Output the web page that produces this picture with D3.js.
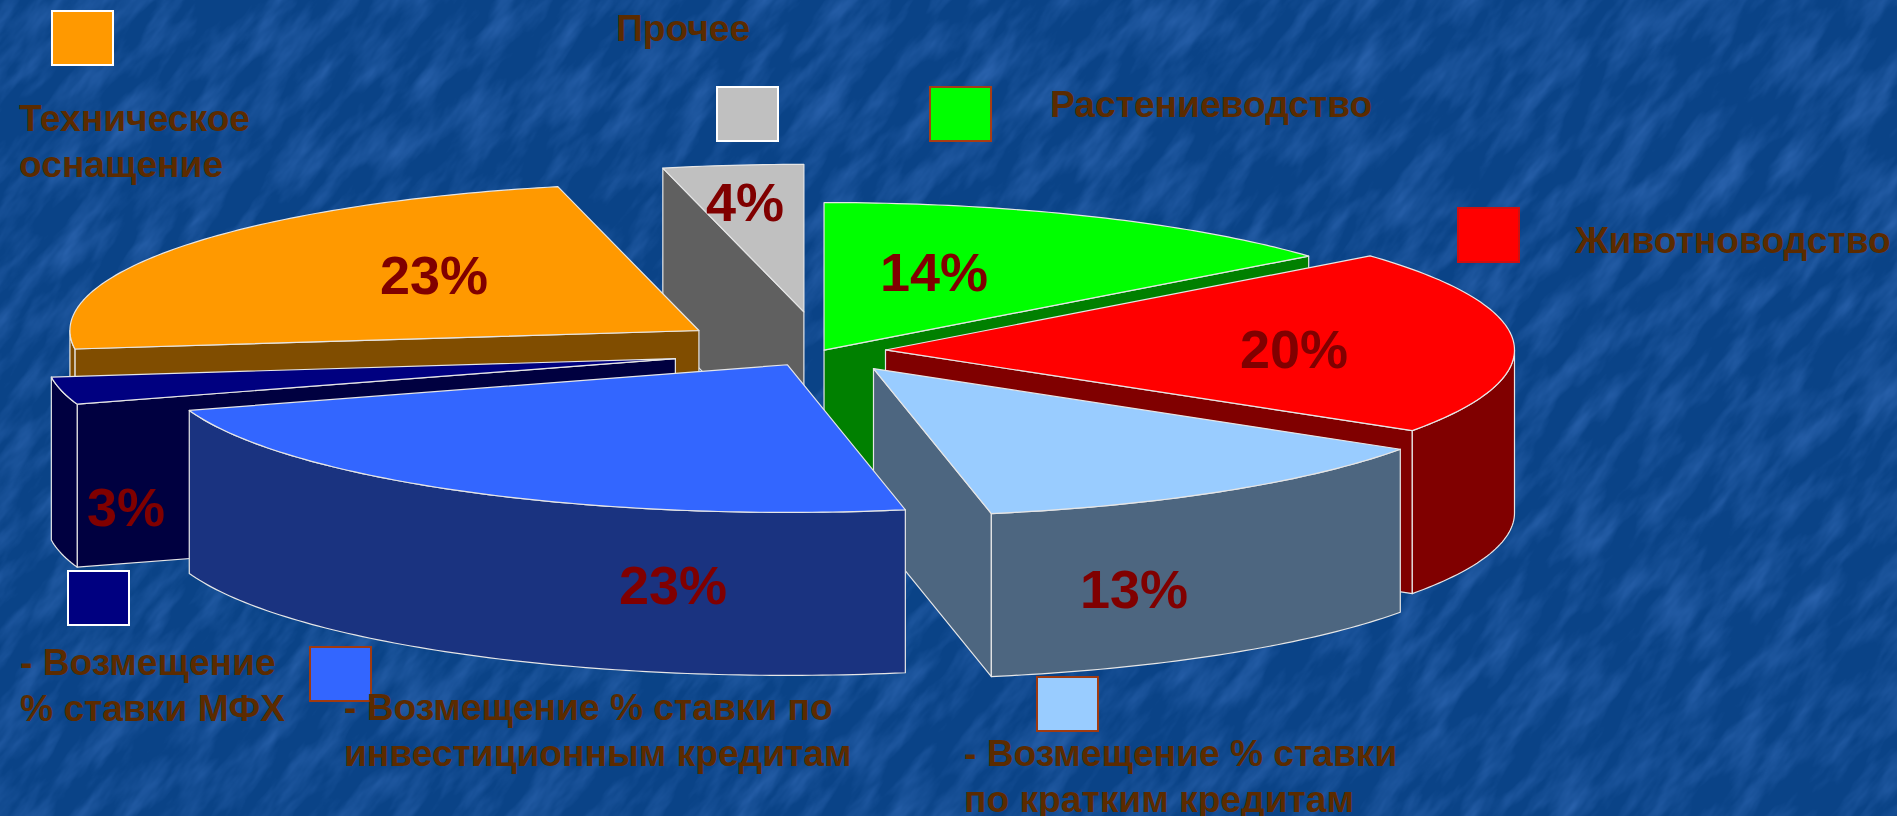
<!DOCTYPE html>
<html>
<head>
<meta charset="utf-8">
<script src="https://cdn.jsdelivr.net/npm/d3@7"></script>
<style>
  html, body { margin: 0; padding: 0; background: #0b4388; overflow: hidden; }
  svg { display: block; }
  text { font-family: "Liberation Sans", Arial, sans-serif; font-weight: bold; }
</style>
</head>
<body>
<div class="figure"></div>
<script>
// shares, clockwise from 12 o'clock
var categories = [
  "Растениеводство",
  "Животноводство",
  "- Возмещение % ставки по кратким кредитам",
  "- Возмещение % ставки по инвестиционным кредитам",
  "- Возмещение % ставки МФХ",
  "Техническое оснащение",
  "Прочее"
]
var shares = [14, 20.2, 12.8, 23, 3, 23.4, 3.6]
var explode = [0.005, 0.10, 0.145, 0.11, 0.24, 0.24, 0.265]
var colors = ["#00ff00", "#ff0000", "#99ccff", "#3366ff", "#000080", "#ff9900", "#c0c0c0"]
var legendLines = [
  ["Растениеводство"],
  ["Животноводство"],
  ["- Возмещение % ставки", "по кратким кредитам"],
  ["- Возмещение % ставки по", "инвестиционным кредитам"],
  ["- Возмещение", "% ставки МФХ"],
  ["Техническое", "оснащение"],
  ["Прочее"]
]

var dim = { w: 1897, h: 816 }

var pieConfig = {
  cx: 822.7,
  cy: 350.8,
  rx: 629,
  ry: 147.6,
  depth: 163,
  stroke: "#e6e6e6",
  // back to front
  drawOrder: [6, 0, 5, 1, 2, 4, 3],
}

var labelConfig = {
  fontSize: 54,
  color: "#800000",
  pos: [[934, 291], [1294, 368], [1134, 608], [673, 604], [126, 526], [434, 294], [745, 221]],
}

var legendConfig = {
  fontSize: 37.2,
  lineHeight: 46,
  color: "#5b2b00",
  swatch: [[930, 87], [1458, 208], [1037, 677], [310, 647], [68, 571], [52, 11], [717, 87]],
  swatchSize: { w: 61, h: 54 },
  border: ["#a83c14", "#d01010", "#a03a10", "#a03a10", "#ffffff", "#ffffff", "#ffffff"],
  text: [[1050, 117], [1575, 253], [964, 766], [344, 720], [20, 675], [19, 131], [616, 41]],
}

var svg = d3.select("div.figure")
  .append("svg")
  .attr("width", dim.w)
  .attr("height", dim.h)

// water-like background
var defs = svg.append("defs")
var streaks = defs.append("filter")
  .attr("id", "streaks")
  .attr("x", 0).attr("y", 0).attr("width", 1).attr("height", 1)
  .attr("color-interpolation-filters", "sRGB")
streaks.append("feTurbulence")
  .attr("type", "fractalNoise")
  .attr("baseFrequency", "0.014 0.045")
  .attr("numOctaves", 4)
  .attr("seed", 7)
streaks.append("feColorMatrix")
  .attr("type", "matrix")
  .attr("values", "0 0 0 0 0.2  0 0 0 0 0.42  0 0 0 0 0.72  1.5 0 0 0 -0.6")

svg.append("rect")
  .attr("width", dim.w).attr("height", dim.h)
  .attr("fill", "#0a4387")
svg.append("rect")
  .attr("x", -900).attr("y", -1500)
  .attr("width", 3800).attr("height", 3800)
  .attr("transform", "rotate(-52 948 408)")
  .attr("filter", "url(#streaks)")

// pie -> ellipse projection
var pie = d3.pie().sort(null).value(function(d) { return d })
var slices = pie(shares)

var line = d3.line()

var project = function(a, k, e) {
  return [e.x + k * pieConfig.rx * Math.sin(a), e.y - k * pieConfig.ry * Math.cos(a)]
}

var arcPoints = function(a0, a1, e) {
  var n = Math.max(2, Math.ceil((a1 - a0) * 60))
  return d3.range(n + 1).map(function(i) {
    return project(a0 + (a1 - a0) * i / n, 1, e)
  })
}

var lower = function(pts) {
  return pts.map(function(p) { return [p[0], p[1] + pieConfig.depth] })
}

var sideColor = function(c) {
  var r = d3.rgb(c)
  return d3.rgb(r.r / 2, r.g / 2, r.b / 2).formatHex()
}

var pieGroup = svg.append("g").attr("id", "pie")

pieConfig.drawOrder.forEach(function(i) {
  var s = slices[i]
  var mid = (s.startAngle + s.endAngle) / 2
  var e = {
    x: pieConfig.cx + explode[i] * pieConfig.rx * Math.sin(mid),
    y: pieConfig.cy - explode[i] * pieConfig.ry * Math.cos(mid),
  }
  var g = pieGroup.append("g").attr("class", "slice")
  var apex = [e.x, e.y]
  var dark = sideColor(colors[i])

  var face = function(pts) {
    g.append("path")
      .attr("d", line(pts) + "Z")
      .attr("fill", dark)
      .attr("stroke", pieConfig.stroke)
      .attr("stroke-width", 1.2)
      .attr("stroke-linejoin", "round")
  }

  var radial = function(a) {
    var top = [apex, project(a, 1, e)]
    face(top.concat(lower(top).reverse()))
  }

  // only the sides turned to the viewer
  if (Math.sin(s.startAngle) < -1e-6) radial(s.startAngle)
  if (Math.sin(s.endAngle) > 1e-6) radial(s.endAngle)

  var a0 = Math.max(s.startAngle, Math.PI / 2),
      a1 = Math.min(s.endAngle, Math.PI * 3 / 2)
  if (a1 > a0) {
    var rim = arcPoints(a0, a1, e)
    face(rim.concat(lower(rim).reverse()))
  }

  g.append("path")
    .attr("d", line([apex].concat(arcPoints(s.startAngle, s.endAngle, e))) + "Z")
    .attr("fill", colors[i])
    .attr("stroke", pieConfig.stroke)
    .attr("stroke-width", 1.2)
    .attr("stroke-linejoin", "round")
})

// percent labels
svg.append("g")
  .selectAll("text")
  .data(shares)
  .enter()
  .append("text")
  .attr("x", function(d, i) { return labelConfig.pos[i][0] })
  .attr("y", function(d, i) { return labelConfig.pos[i][1] })
  .attr("text-anchor", "middle")
  .attr("font-size", labelConfig.fontSize)
  .attr("fill", labelConfig.color)
  .text(function(d) { return Math.round(d) + "%" })

// legend swatches and texts
svg.append("g")
  .selectAll("rect")
  .data(categories)
  .enter()
  .append("rect")
  .attr("x", function(d, i) { return legendConfig.swatch[i][0] })
  .attr("y", function(d, i) { return legendConfig.swatch[i][1] })
  .attr("width", legendConfig.swatchSize.w)
  .attr("height", legendConfig.swatchSize.h)
  .attr("fill", function(d, i) { return colors[i] })
  .attr("stroke", function(d, i) { return legendConfig.border[i] })
  .attr("stroke-width", 2)

var legendText = svg.append("g")
  .selectAll("text")
  .data(legendLines)
  .enter()
  .append("text")
  .attr("font-size", legendConfig.fontSize)
  .attr("fill", legendConfig.color)

legendText.selectAll("tspan")
  .data(function(d, i) {
    return d.map(function(t, j) { return { t: t, i: i, j: j } })
  })
  .enter()
  .append("tspan")
  .attr("x", function(d) { return legendConfig.text[d.i][0] })
  .attr("y", function(d) { return legendConfig.text[d.i][1] + d.j * legendConfig.lineHeight })
  .text(function(d) { return d.t })
</script>
</body>
</html>
